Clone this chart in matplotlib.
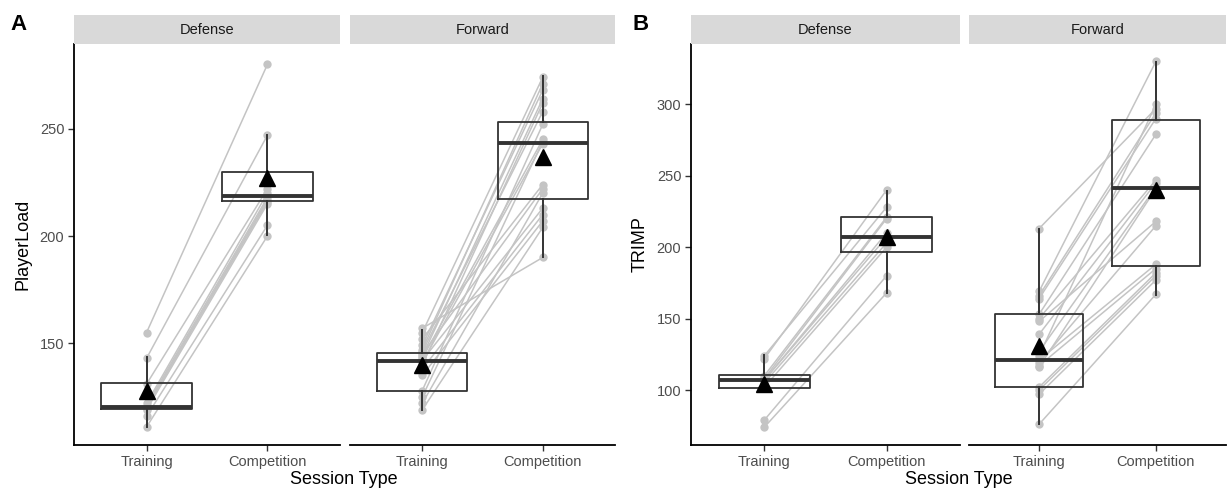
import matplotlib
matplotlib.use("Agg")
import matplotlib.pyplot as plt

plt.rcParams['font.family'] = ['Liberation Sans', 'DejaVu Sans']

sessions = ["Training", "Competition"]
positions = ["Defense", "Forward"]

# Panel A - PlayerLoad, paired per player (training -> competition)
pl_def_train = [155, 143, 131, 122, 121, 120, 120, 119, 116, 111]
pl_def_comp = [280, 247, 222, 220, 218, 217, 216, 215, 205, 200]
pl_fwd_train = [157, 155, 152, 149, 147, 146, 145, 144, 143, 142, 141, 140, 138, 135, 128, 125, 122, 119]
pl_fwd_comp = [190, 274, 224, 268, 271, 258, 222, 264, 245, 213, 243, 262, 210, 207, 252, 244, 220, 204]

# Panel B - TRIMP
tr_def_train = [124, 122, 110, 108, 107, 107, 105, 102, 79, 74]
tr_def_comp = [228, 240, 221, 220, 210, 207, 203, 200, 180, 168]
tr_fwd_train = [213, 169, 166, 164, 153, 150, 148, 139, 127, 124, 121, 119, 117, 116, 102, 100, 97, 76]
tr_fwd_comp = [297, 330, 294, 290, 279, 247, 218, 245, 242, 300, 188, 215, 185, 241, 182, 180, 177, 167]

# box stats: whislo, q1, median, q3, whishi
pl_def_box = [[111, 119.2, 120.2, 131.5, 143.5], [200.5, 216.5, 218.8, 230, 247]]
pl_fwd_box = [[119, 128, 141.8, 145.6, 156], [190.4, 217.1, 243.2, 253, 274.5]]
tr_def_box = [[101, 101.2, 107, 110.3, 124.5], [167.7, 196.8, 206.9, 220.9, 239.5]]
tr_fwd_box = [[76.5, 101.8, 121, 153.2, 212.7], [166.5, 186.5, 241.6, 289, 329.5]]

# group means (triangles)
pl_def_mean = [128, 227]
pl_fwd_mean = [140, 237]
tr_def_mean = [104, 207]
tr_fwd_mean = [131, 240]

W, H = 1227, 491
fig = plt.figure(figsize=(W / 100, H / 100), dpi=100)

DARK = '#333333'
PT = '#C4C4C4'


def px_axes(x0, x1, y0, y1):
    return fig.add_axes([x0 / W, 1 - y1 / H, (x1 - x0) / W, (y1 - y0) / H])


def draw_facet(x0, x1, title, train, comp, boxes, means, ylim, yticks, show_y):
    ax = px_axes(x0, x1, 44, 445)
    for a, b in zip(train, comp):
        ax.plot([1, 2], [a, b], color=PT, lw=1.1, zorder=1)
    ax.scatter([1] * len(train), train, s=36, color=PT, zorder=2, linewidths=0)
    ax.scatter([2] * len(comp), comp, s=36, color=PT, zorder=2, linewidths=0)
    stats = [dict(whislo=b[0], q1=b[1], med=b[2], q3=b[3], whishi=b[4], fliers=[]) for b in boxes]
    ax.bxp(stats, positions=[1, 2], widths=0.75, showcaps=False, showfliers=False,
           boxprops=dict(color=DARK, lw=1.3), whiskerprops=dict(color=DARK, lw=1.4),
           medianprops=dict(color=DARK, lw=2.8), zorder=3)
    ax.plot([1, 2], means, ls='none', marker='^', ms=11, color='black', zorder=4)
    ax.set_xlim(0.4, 2.6)
    ax.set_ylim(*ylim)
    ax.set_xticks([1, 2])
    ax.set_xticklabels(sessions, fontsize=10.5, color='#4D4D4D')
    ax.tick_params(axis='x', length=4, color=DARK, width=1, pad=3)
    for s in ['top', 'right']:
        ax.spines[s].set_visible(False)
    ax.spines['bottom'].set_linewidth(1.3)
    ax.spines['bottom'].set_color('black')
    if show_y:
        ax.set_yticks(yticks)
        ax.tick_params(axis='y', length=4, color=DARK, width=1, pad=3, labelsize=10.5, labelcolor='#4D4D4D')
        ax.spines['left'].set_linewidth(1.3)
        ax.spines['left'].set_color('black')
    else:
        ax.spines['left'].set_visible(False)
        ax.set_yticks([])
    # facet strip
    st = px_axes(x0, x1, 15, 44)
    st.set_facecolor('#D9D9D9')
    st.set_xticks([])
    st.set_yticks([])
    for s in st.spines.values():
        s.set_visible(False)
    st.text(0.5, 0.5, title, ha='center', va='center', fontsize=10.5, color='#1A1A1A',
            transform=st.transAxes)
    return ax


# Panel A
axA = draw_facet(74, 340, positions[0], pl_def_train, pl_def_comp, pl_def_box, pl_def_mean,
                 (102.6, 289.5), [150, 200, 250], True)
draw_facet(350, 615, positions[1], pl_fwd_train, pl_fwd_comp, pl_fwd_box, pl_fwd_mean,
           (102.6, 289.5), [150, 200, 250], False)
axA.set_ylabel("PlayerLoad", fontsize=13, labelpad=6)

# Panel B
axB = draw_facet(691, 960, positions[0], tr_def_train, tr_def_comp, tr_def_box, tr_def_mean,
                 (61.5, 342.2), [100, 150, 200, 250, 300], True)
draw_facet(969, 1226, positions[1], tr_fwd_train, tr_fwd_comp, tr_fwd_box, tr_fwd_mean,
           (61.5, 342.2), [100, 150, 200, 250, 300], False)
axB.set_ylabel("TRIMP", fontsize=13, labelpad=6)

fig.text(344 / W, 1 - 479 / H, "Session Type", ha='center', va='center', fontsize=13)
fig.text(959 / W, 1 - 479 / H, "Session Type", ha='center', va='center', fontsize=13)
fig.text(10 / W, 1 - 25 / H, "A", ha='left', va='center', fontsize=16, fontweight='bold')
fig.text(633 / W, 1 - 25 / H, "B", ha='left', va='center', fontsize=16, fontweight='bold')

fig.savefig("out.png", dpi=100, facecolor='white')
